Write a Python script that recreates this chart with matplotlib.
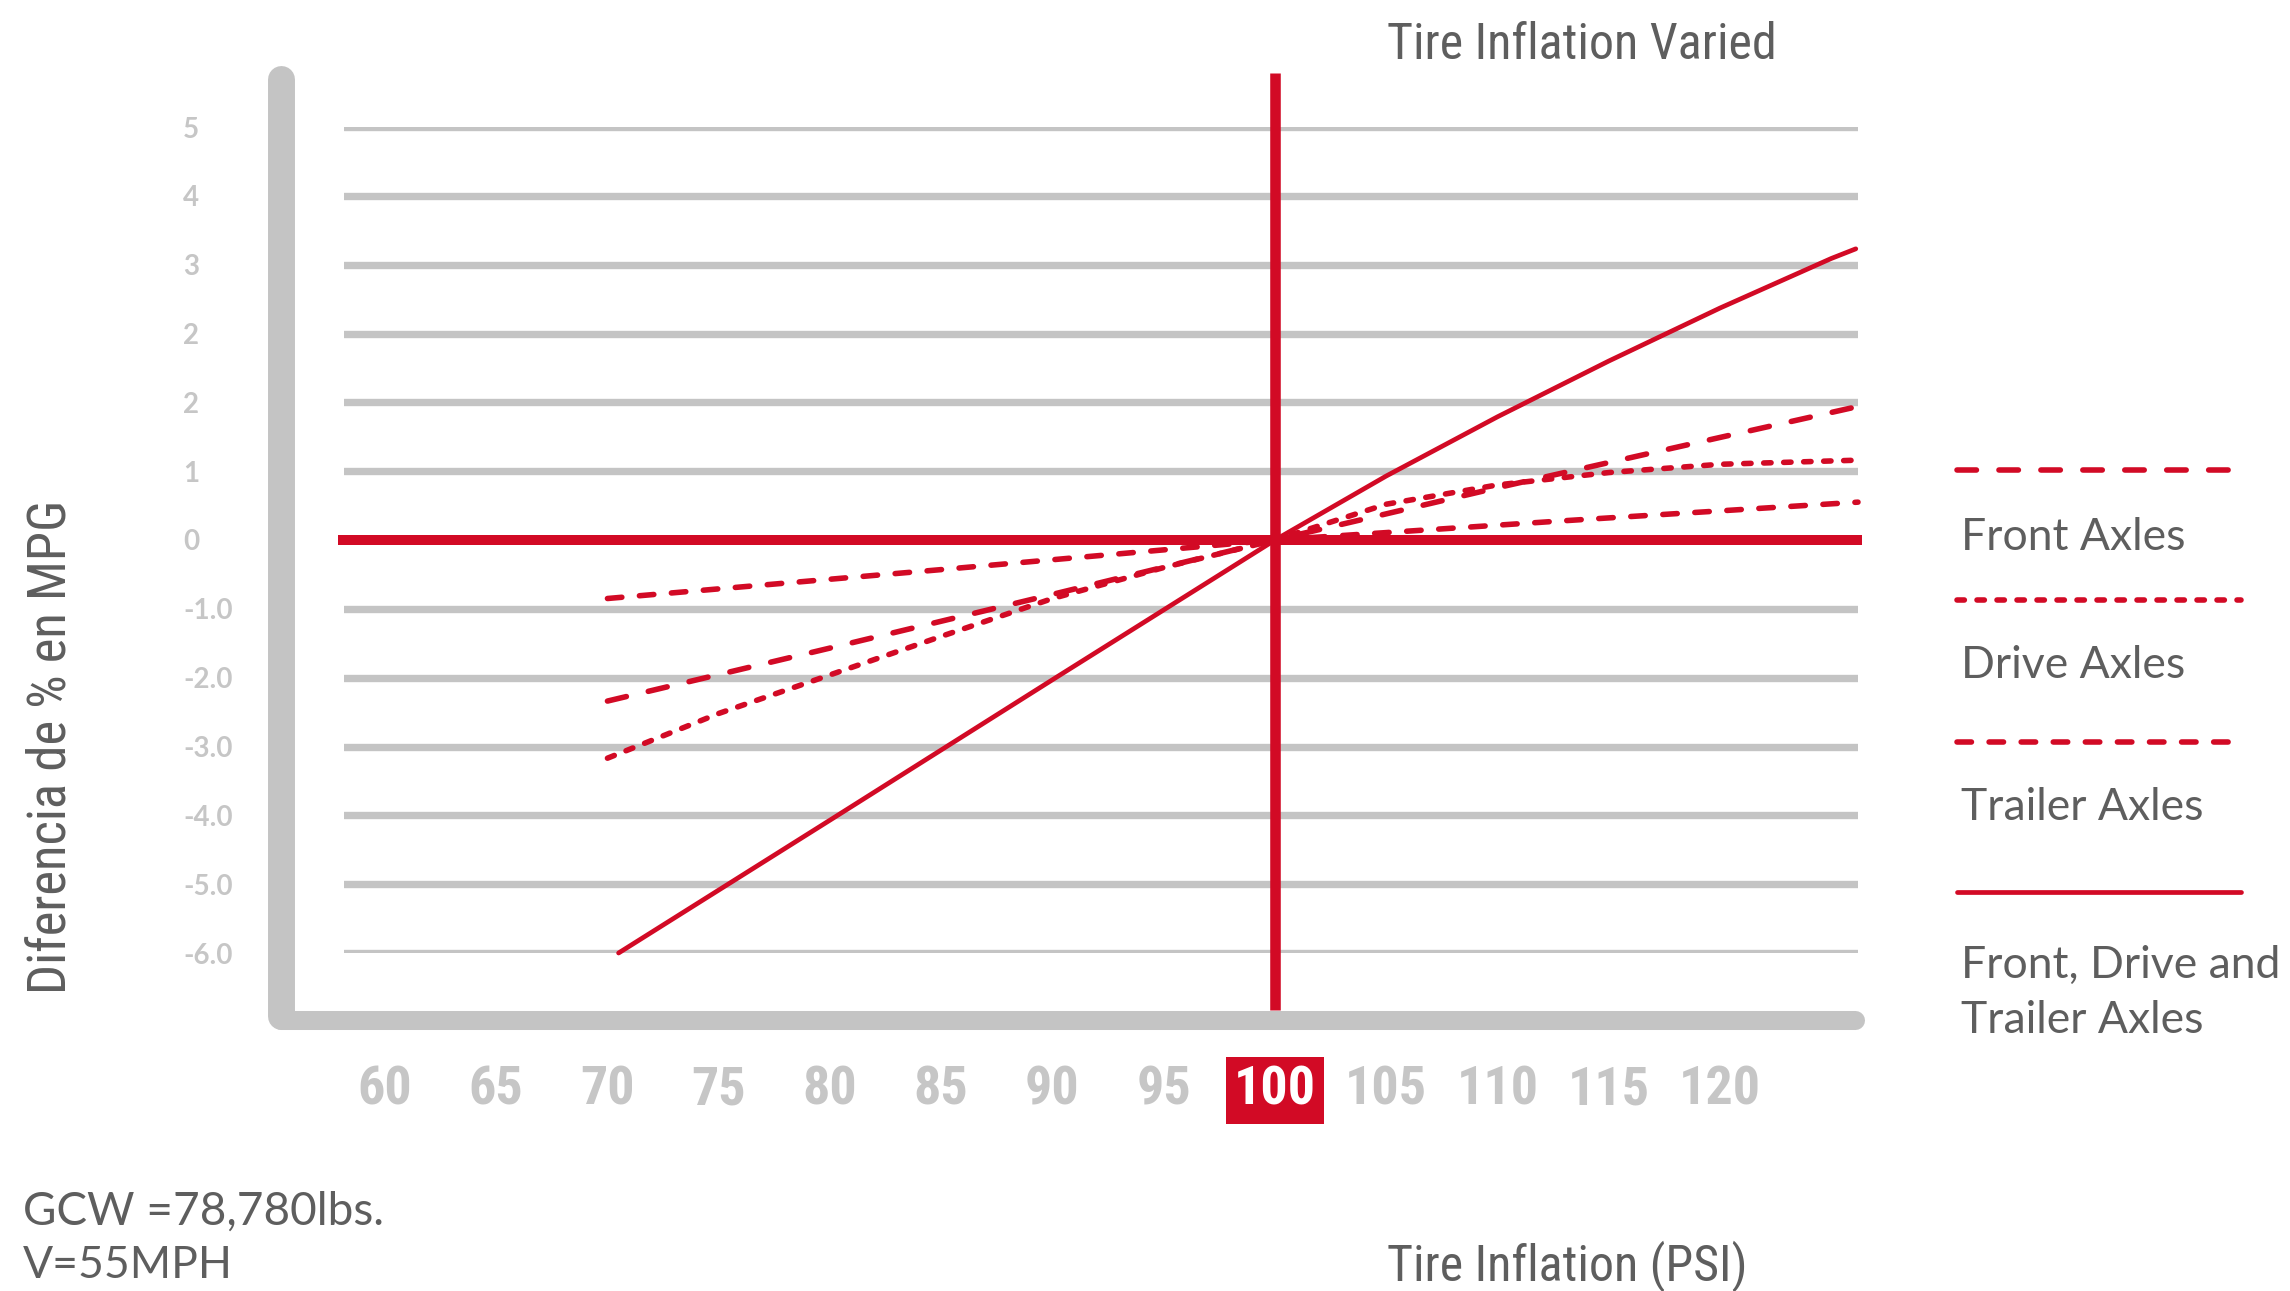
import matplotlib
matplotlib.use("Agg")
import matplotlib.pyplot as plt
from matplotlib.lines import Line2D
from matplotlib import font_manager as fm

# ---------------- data ----------------
psi_ticks = [60, 65, 70, 75, 80, 85, 90, 95, 100, 105, 110, 115, 120]
psi_tick_labels = ["60", "65", "70", "75", "80", "85", "90", "95", "100", "105", "110", "115", "120"]
mpg_ticks = [6, 5, 4, 3, 2, 1, 0, -1, -2, -3, -4, -5, -6]
mpg_tick_labels = ["5", "4", "3", "2", "2", "1", "0", "-1.0", "-2.0", "-3.0", "-4.0", "-5.0", "-6.0"]

series_names = ["Front Axles", "Drive Axles", "Trailer Axles", "Front, Drive and\nTrailer Axles"]

front_x = [70, 80, 90, 100, 110, 120, 126.2]
front_y = [-2.34, -1.57, -0.79, 0, 0.76, 1.49, 1.94]

drive_x = [70, 75, 80, 85, 90, 95, 100, 105, 110, 115, 120, 126.2]
drive_y = [-3.17, -2.52, -1.96, -1.40, -0.85, -0.40, 0, 0.52, 0.80, 0.98, 1.10, 1.16]

trailer_x = [70, 85, 100, 113, 126.2]
trailer_y = [-0.85, -0.43, 0, 0.28, 0.55]

combined_x = [70.5, 80, 90, 100, 105, 110, 115, 120, 125, 126.1]
combined_y = [-6.0, -4.07, -2.03, 0, 0.93, 1.79, 2.60, 3.37, 4.09, 4.23]

reference_psi = 100

# ---------------- style ----------------
RED = "#d20a25"
GRID = "#c4c4c4"
TICK = "#c6c6c6"
TEXT = "#5e5e5e"
LATO = ["Lato", "DejaVu Sans"]

installed = {f.name for f in fm.fontManager.ttflist}
cond_family = None
for fam in ["Roboto Condensed", "Open Sans Condensed", "Liberation Sans Narrow", "Arial Narrow"]:
    if fam in installed:
        cond_family = fam
        break
if cond_family:
    NARROW = [cond_family, "Lato", "DejaVu Sans"]
    title_size, axis_title_size, ylabel_size, xtick_size = 36, 36, 38, 39
else:
    NARROW = LATO
    title_size, axis_title_size, ylabel_size, xtick_size = 32.5, 33, 33, 34

plt.rcParams["lines.scale_dashes"] = False

W, H = 2290, 1291
fig = plt.figure(figsize=(W / 100, H / 100), dpi=100)
fig.patch.set_facecolor("white")

L, R, T, B = 344, 1858, 127, 953
ax = fig.add_axes([L / W, 1 - B / H, (R - L) / W, (B - T) / H])
ax.set_facecolor("none")
for s in ax.spines.values():
    s.set_visible(False)
ax.set_xlim(58.16, 126.2)
ax.set_ylim(-6, 6)

def ax_x(px):
    return (px - L) / (R - L)

def ax_y(py):
    return (B - py) / (B - T)

# grid
ax.set_yticks(mpg_ticks)
ax.set_yticklabels(mpg_tick_labels)
ax.yaxis.grid(True, color=GRID, lw=5.3, solid_capstyle="round", zorder=1)
ax.set_axisbelow(True)
ax.tick_params(axis="y", length=0, pad=116, labelsize=20, labelcolor=TICK)
for lab in ax.get_yticklabels():
    lab.set_ha("left")
    lab.set_fontfamily(LATO)
    lab.set_fontweight("bold")

ax.set_xticks(psi_ticks)
ax.set_xticklabels(psi_tick_labels)
xpad = 80 + (40 - xtick_size) * 0.45
ax.tick_params(axis="x", length=0, pad=xpad, labelsize=xtick_size, labelcolor=TICK)
for lab in ax.get_xticklabels():
    lab.set_fontfamily(NARROW)
    lab.set_fontweight("bold")
    if lab.get_text() == str(reference_psi):
        lab.set_color("white")
        lab.set_bbox(dict(boxstyle="square,pad=0.15", fc=RED, ec="none"))

# frame bars
ax.add_line(Line2D([ax_x(280.5), ax_x(280.5)], [ax_y(78.5), ax_y(1015.5)], transform=ax.transAxes,
                   color=GRID, lw=19.4, solid_capstyle="round", clip_on=False, zorder=1))
ax.add_line(Line2D([ax_x(280.5), ax_x(1855)], [ax_y(1019.5), ax_y(1019.5)], transform=ax.transAxes,
                   color=GRID, lw=13.7, solid_capstyle="round", clip_on=False, zorder=1))

# zero line and reference line
ax.axhline(0, xmin=ax_x(338), xmax=ax_x(1862), color=RED, lw=7.2, solid_capstyle="butt",
           clip_on=False, zorder=2)
ax.axvline(reference_psi, ymin=ax_y(1010), ymax=ax_y(73), color=RED, lw=7.6,
           solid_capstyle="butt", clip_on=False, zorder=2)

styles = [
    dict(color=RED, lw=4.0, ls=(0, (14.0, 16.2)), dash_capstyle="round"),
    dict(color=RED, lw=4.0, ls=(0, (5.3, 9.1)), dash_capstyle="round"),
    dict(color=RED, lw=4.0, ls=(0, (10.4, 12.7)), dash_capstyle="round"),
    dict(color=RED, lw=3.4, ls="-", solid_capstyle="round"),
]
xs = [front_x, drive_x, trailer_x, combined_x]
ys = [front_y, drive_y, trailer_y, combined_y]
for x, y, st, name in zip(xs, ys, styles, series_names):
    ax.plot(x, y, label=name, zorder=3, clip_on=False, **st)

# legend (manual)
leg_line_y = [470, 600, 742, 892]
leg_text_y = [537, 665, 808, 993]
for st, ly, ty, name in zip(styles, leg_line_y, leg_text_y, series_names):
    fig.add_artist(Line2D([1957 / W, 2241 / W], [1 - ly / H, 1 - ly / H], transform=fig.transFigure, **st))
    fig.text(1961 / W, 1 - ty / H, name, ha="left", va="center", fontsize=32,
             family=LATO, color=TEXT, linespacing=1.4)

# titles
fig.text(1387 / W, 1 - 45 / H, "Tire Inflation Varied", ha="left", va="center", fontsize=title_size,
         family=NARROW, color=TEXT)
fig.text(1387 / W, 1 - 1266 / H, "Tire Inflation (PSI)", ha="left", va="center", fontsize=axis_title_size,
         family=NARROW, color=TEXT)
fig.text(52 / W, 1 - 747 / H, "Diferencia de % en MPG", ha="center", va="center", rotation=90,
         fontsize=ylabel_size, family=NARROW, color=TEXT)
fig.text(23 / W, 1 - 1212 / H, "GCW =78,780lbs.", ha="left", va="center", fontsize=33,
         family=LATO, color=TEXT)
fig.text(23 / W, 1 - 1265 / H, "V=55MPH", ha="left", va="center", fontsize=32,
         family=LATO, color=TEXT)

fig.savefig("out.png", dpi=100, facecolor="white")
